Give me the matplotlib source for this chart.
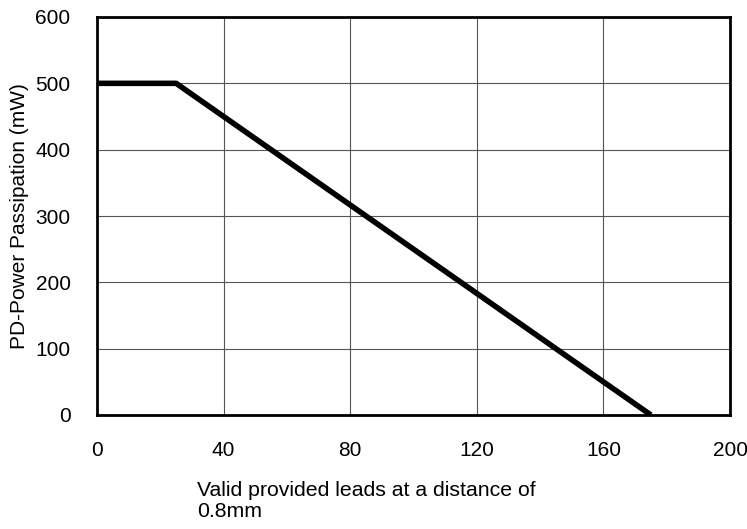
import matplotlib
matplotlib.use("Agg")
import matplotlib.pyplot as plt

plt.rcParams['font.family'] = ['Liberation Sans', 'DejaVu Sans']

# Derating curve
x_vals = [0, 25, 175]
y_vals = [500, 500, 0]

x_ticks = [0, 40, 80, 120, 160, 200]
y_ticks = [0, 100, 200, 300, 400, 500, 600]

fig = plt.figure(figsize=(7.47, 5.29), dpi=100)
ax = fig.add_axes([97 / 747, 1 - 415 / 529, 633 / 747, 398 / 529])

ax.plot(x_vals, y_vals, color='black', linewidth=4, solid_capstyle='butt')
ax.set_xlim(0, 200)
ax.set_ylim(0, 600)
ax.set_xticks(x_ticks)
ax.set_yticks(y_ticks)
ax.tick_params(length=0, labelsize=15, pad=19)
ax.grid(color='#555555', linewidth=0.8)
ax.set_axisbelow(True)
for sp in ax.spines.values():
    sp.set_linewidth(2)
    sp.set_color('black')

ax.set_ylabel('PD-Power Passipation (mW)', fontsize=15, labelpad=5)
fig.text(197 / 747, 1 - 501 / 529, 'Valid provided leads at a distance of\n0.8mm',
         fontsize=15.3, ha='left', va='center', linespacing=1.12)

fig.savefig('out.png', dpi=100)
